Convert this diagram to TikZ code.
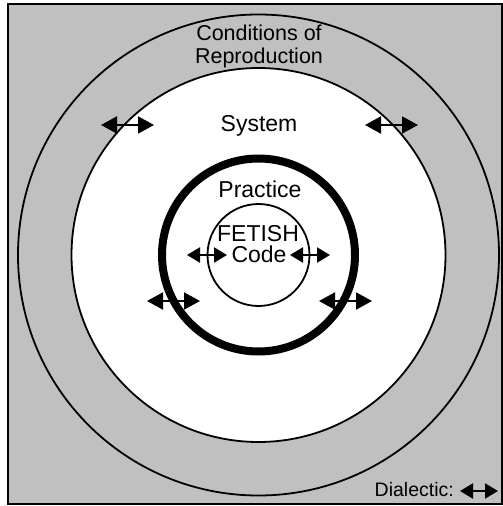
\documentclass[tikz,border=0pt]{standalone}
\usepackage{fontspec}
\setmainfont{Liberation Sans}
\usetikzlibrary{arrows.meta}
\definecolor{bggray}{RGB}{192,192,192}

\begin{document}
\begin{tikzpicture}[
    x=1pt, y=-1pt,
    ring/.style={draw, line width=1.8pt},
    dial/.style={line width=2pt,
                 {Triangle[length=16pt,width=17pt]}-{Triangle[length=16pt,width=17pt]}},
    dials/.style={line width=2pt,
                 {Triangle[length=13pt,width=15pt]}-{Triangle[length=13pt,width=15pt]}},
    lbl/.style={inner sep=0pt, anchor=base, font=\fontsize{23}{25}\selectfont}
  ]
  \useasboundingbox (0,0) rectangle (503,506);

  % Frame and the four circles round one centre.
  \draw[line width=2pt, fill=bggray] (8,4) rectangle (501.5,504);
  \coordinate (c) at (258.5,255);
  \draw[ring, fill=bggray] (c) circle[radius=240.5pt];
  \draw[ring, fill=white]  (c) circle[radius=187pt];
  \draw[line width=8pt]    (c) circle[radius=96.5pt];
  \draw[ring]              (c) circle[radius=51pt];

  \node[lbl, font=\fontsize{21.5}{23}\selectfont] (cond) at (259,40) {Conditions of};
  \node[lbl, font=\fontsize{21.5}{23}\selectfont] (repr) at (259,63) {Reproduction};
  \node[lbl] (sys)  at (259,131) {System};
  \node[lbl] (prac) at (260,197) {Practice};
  \node[lbl] (fet)  at (258,241) {FETISH};
  \node[lbl] (code) at (259,262) {Code};

  % Dialectic arrows across each boundary.
  \draw[dial]  (101,125) -- (154,125);
  \draw[dial]  (365,125) -- (418,125);
  \draw[dial]  (147,301) -- (200,301);
  \draw[dial]  (319,301) -- (372,301);
  \draw[dials] (187,255) -- (227,255);
  \draw[dials] (290,255) -- (330,255);

  % Legend.
  \node[lbl, anchor=base east, font=\fontsize{19.5}{21}\selectfont] (leg) at (454,496) {Dialectic:};
  \draw[dials] (460,491) -- (498,491);

\end{tikzpicture}
\end{document}
